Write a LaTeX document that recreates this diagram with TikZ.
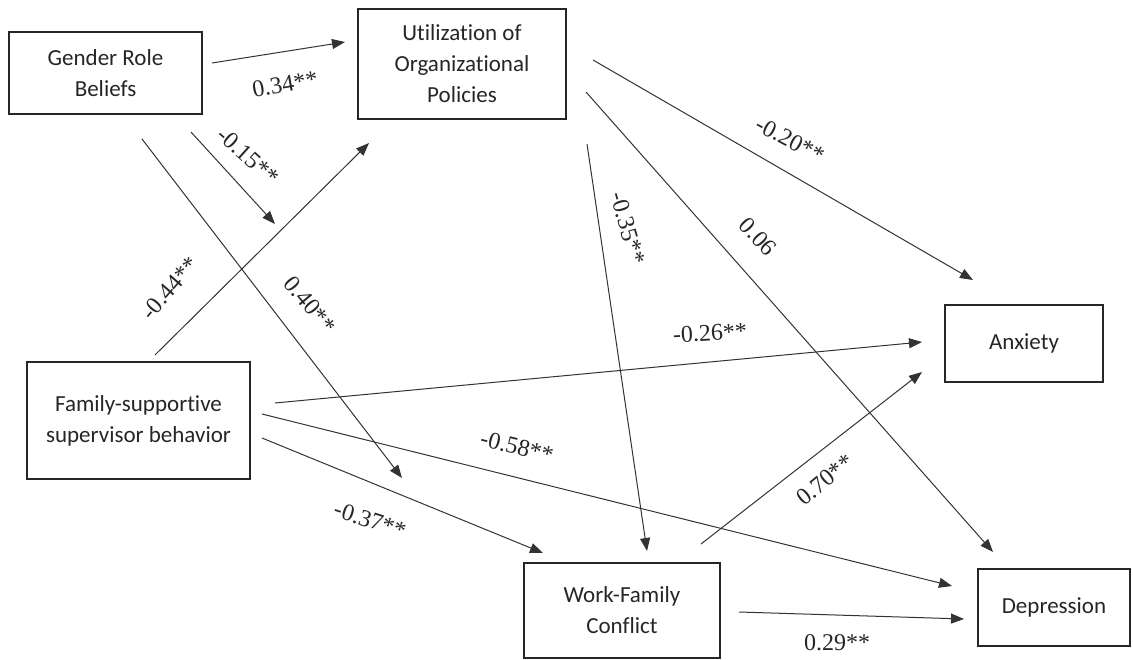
\documentclass[tikz,border=0pt]{standalone}
\usepackage{fontspec}
\setmainfont{Liberation Serif}
\newfontfamily\boxfont[Ligatures=NoCommon]{Carlito}
\usetikzlibrary{arrows.meta}
\tikzset{
  box/.style={draw=black!85, line width=1.3pt, align=center, font=\boxfont\fontsize{23}{31}\selectfont, text=black!85},
  effect/.style={draw=black!80, line width=1pt, -{Triangle[length=13pt,width=10pt]}},
  coef/.style={font=\fontsize{24}{24}\selectfont, inner sep=0pt, text=black!85},
}
\begin{document}
\begin{tikzpicture}[x=1pt,y=-1pt]
\useasboundingbox (0,0) rectangle (1133,660);
\node[box, minimum width=193pt, minimum height=82pt] (grb) at (105.5,73) {Gender Role\\Beliefs};
\node[box, minimum width=208pt, minimum height=110pt] (uop) at (462,64) {Utilization of\\Organizational\\Policies};
\node[box, minimum width=223pt, minimum height=117pt] (fssb) at (138.5,420.5) {Family-supportive\\supervisor behavior};
\node[box, minimum width=158pt, minimum height=77pt] (anx) at (1024,343.5) {Anxiety};
\node[box, minimum width=196pt, minimum height=95pt] (wfc) at (622,610.5) {Work-Family\\Conflict};
\node[box, minimum width=152pt, minimum height=77pt] (dep) at (1054,607.5) {Depression};
\coordinate (grb-uop-s) at (212,63);
\coordinate (grb-uop-e) at (345,42);
\coordinate (grb-mod-s) at (191,132);
\coordinate (grb-mod-e) at (275,224);
\coordinate (grb-wfc-s) at (142,139);
\coordinate (grb-wfc-e) at (402,478);
\coordinate (fssb-uop-s) at (155,355);
\coordinate (fssb-uop-e) at (369,143);
\coordinate (uop-anx-s) at (593,60);
\coordinate (uop-anx-e) at (973,280);
\coordinate (uop-dep-s) at (586,92);
\coordinate (uop-dep-e) at (993,552);
\coordinate (uop-wfc-s) at (587,144);
\coordinate (uop-wfc-e) at (647,551);
\coordinate (fssb-anx-s) at (275,403);
\coordinate (fssb-anx-e) at (922,342);
\coordinate (fssb-dep-s) at (262,414);
\coordinate (fssb-dep-e) at (952,586);
\coordinate (fssb-wfc-s) at (262,438);
\coordinate (fssb-wfc-e) at (543,553);
\coordinate (wfc-anx-s) at (701,544);
\coordinate (wfc-anx-e) at (922,372);
\coordinate (wfc-dep-s) at (739,612);
\coordinate (wfc-dep-e) at (964,619);
\draw[effect] (grb-uop-s) -- (grb-uop-e);
\draw[effect] (grb-mod-s) -- (grb-mod-e);
\draw[effect] (grb-wfc-s) -- (grb-wfc-e);
\draw[effect] (fssb-uop-s) -- (fssb-uop-e);
\draw[effect] (uop-anx-s) -- (uop-anx-e);
\draw[effect] (uop-dep-s) -- (uop-dep-e);
\draw[effect] (uop-wfc-s) -- (uop-wfc-e);
\draw[effect] (fssb-anx-s) -- (fssb-anx-e);
\draw[effect] (fssb-dep-s) -- (fssb-dep-e);
\draw[effect] (fssb-wfc-s) -- (fssb-wfc-e);
\draw[effect] (wfc-anx-s) -- (wfc-anx-e);
\draw[effect] (wfc-dep-s) -- (wfc-dep-e);
\node[coef, rotate=10] (c-grb-uop) at (285,84) {0.34**};
\node[coef, rotate=-42] (c-grb-mod) at (248,156) {-0.15**};
\node[coef, rotate=-50] (c-grb-wfc) at (310,305) {0.40**};
\node[coef, rotate=49] (c-fssb-uop) at (170,288) {-0.44**};
\node[coef, rotate=-28] (c-uop-anx) at (790,140) {-0.20**};
\node[coef, rotate=-47] (c-uop-dep) at (758,237) {0.06};
\node[coef, rotate=-74] (c-uop-wfc) at (628,228) {-0.35**};
\node[coef, rotate=3] (c-fssb-anx) at (710,333) {-0.26**};
\node[coef, rotate=-14] (c-fssb-dep) at (517,447) {-0.58**};
\node[coef, rotate=-18] (c-fssb-wfc) at (370,520) {-0.37**};
\node[coef, rotate=39] (c-wfc-anx) at (825,480) {0.70**};
\node[coef] (c-wfc-dep) at (837,643) {0.29**};
\end{tikzpicture}
\end{document}
